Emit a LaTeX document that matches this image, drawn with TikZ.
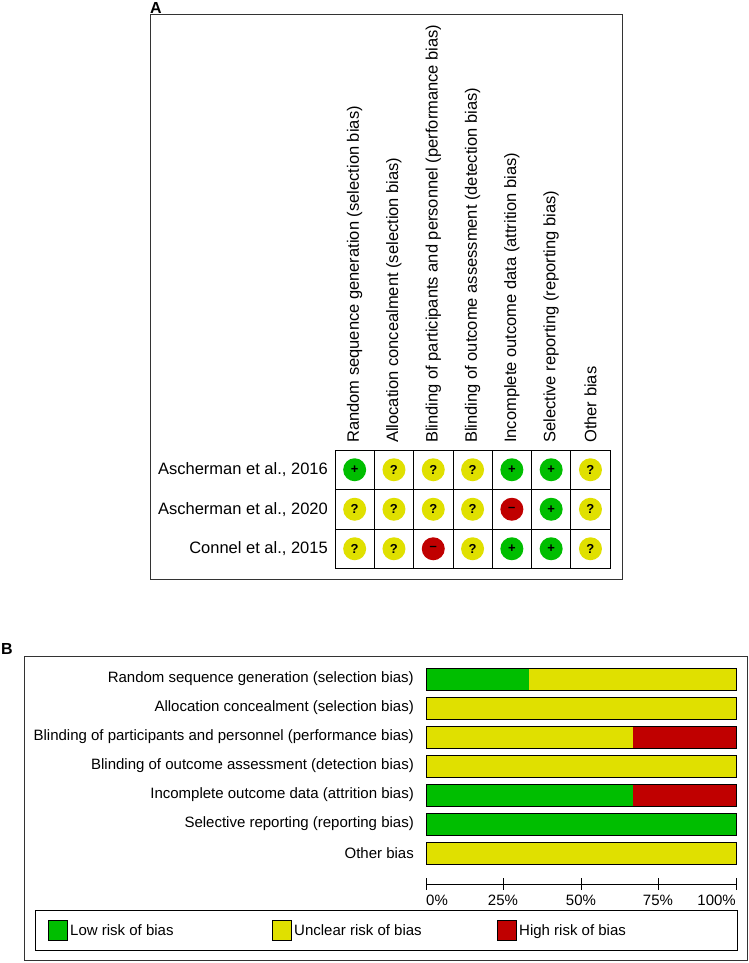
\documentclass[tikz,border=0pt]{standalone}
\usepackage{fontspec}
\setmainfont{Liberation Sans}
\begin{document}
\begin{tikzpicture}[x=1pt,y=-1pt,
  lbl/.style={font=\fontsize{16.5}{18}\selectfont,inner sep=0pt},
  lblb/.style={font=\fontsize{15}{17}\selectfont,inner sep=0pt},
  circ/.style={circle,minimum size=23pt,inner sep=0pt,font=\bfseries\fontsize{13}{14}\selectfont},
  lowc/.style={circ,fill=rgbgreen},
  uncc/.style={circ,fill=rgbyellow},
  highc/.style={circ,fill=rgbred},
  frame/.style={draw=black!80,line width=1pt}]
\definecolor{rgbgreen}{RGB}{0,190,0}
\definecolor{rgbyellow}{RGB}{224,224,0}
\definecolor{rgbred}{RGB}{192,0,0}
\useasboundingbox (0,0) rectangle (749,963);
% Panel A
\node[font=\bfseries\fontsize{16}{18}\selectfont] (labA) at (156,8) {A};
\draw[frame] (150,15) rectangle (622,579);
\foreach \t [count=\i] in {Random sequence generation (selection bias),Allocation concealment (selection bias),Blinding of participants and personnel (performance bias),Blinding of outcome assessment (detection bias),Incomplete outcome data (attrition bias),Selective reporting (reporting bias),Other bias}{
  \node[lbl,rotate=90,anchor=west] (h\i) at ({335+39.3*(\i-0.5)},443) {\t};
}
\foreach \t [count=\j] in {{Ascherman et al., 2016},{Ascherman et al., 2020},{Connel et al., 2015}}{
  \node[lbl,anchor=east] (s\j) at (328,{450+39.5*(\j-0.5)}) {\t};
}
\foreach \x in {0,...,7} \draw[line width=0.8pt] ({335+39.3*\x},450) -- ({335+39.3*\x},568.5);
\foreach \y in {0,...,3} \draw[line width=0.8pt] (335,{450+39.5*\y}) -- (610,{450+39.5*\y});
\foreach \r/\row in {1/{L,U,U,U,L,L,U},2/{U,U,U,U,H,L,U},3/{U,U,H,U,L,L,U}}{
  \foreach \v [count=\c] in \row {
    \def\cx{335+39.3*(\c-0.5)}\def\cy{450+39.5*(\r-0.5)}
    \if\v L\node[lowc] (c\r\c) at ({\cx},{\cy}) {+};\fi
    \if\v U\node[uncc] (c\r\c) at ({\cx},{\cy}) {?};\fi
    \if\v H\node[highc] (c\r\c) at ({\cx},{\cy}) {--};\fi
  }
}
% Panel B
\node[font=\bfseries\fontsize{16}{18}\selectfont] (labB) at (7,649) {B};
\draw[frame] (24,656) rectangle (747,960);
\foreach \t/\g/\u [count=\i] in {Random sequence generation (selection bias)/33.3/100,Allocation concealment (selection bias)/0/100,Blinding of participants and personnel (performance bias)/0/66.7,Blinding of outcome assessment (detection bias)/0/100,Incomplete outcome data (attrition bias)/66.7/66.7,Selective reporting (reporting bias)/100/100,Other bias/0/100}{
  \pgfmathsetmacro\yc{679+29*(\i-1)}
  \node[lblb,anchor=east] (b\i) at (414,\yc) {\t};
  \fill[rgbred] (426,\yc-11) rectangle (736,\yc+11);
  \fill[rgbyellow] (426,\yc-11) rectangle ({426+3.1*\u},\yc+11);
  \fill[rgbgreen] (426,\yc-11) rectangle ({426+3.1*\g},\yc+11);
  \draw[line width=0.8pt] (426,\yc-11) rectangle (736,\yc+11);
}
\draw[line width=0.8pt] (426,884) -- (736,884);
\foreach \p [count=\k] in {0,25,50,75,100}{
  \draw[line width=0.8pt] ({426+3.1*\p},878) -- ({426+3.1*\p},890);
}
\node[lblb,anchor=west] (t0) at (426,900) {0\%};
\node[lblb] (t25) at (503,900) {25\%};
\node[lblb] (t50) at (581,900) {50\%};
\node[lblb] (t75) at (658,900) {75\%};
\node[lblb,anchor=east] (t100) at (736,900) {100\%};
\draw[line width=1pt] (35,910) rectangle (737,950);
\foreach \cc/\xx/\t in {rgbgreen/48/Low risk of bias,rgbyellow/272/Unclear risk of bias,rgbred/497/High risk of bias}{
  \draw[fill=\cc,line width=0.8pt] (\xx,920) rectangle (\xx+19,940);
  \node[lblb,anchor=base west] at (\xx+22,935) {\t};
}
\end{tikzpicture}
\end{document}
